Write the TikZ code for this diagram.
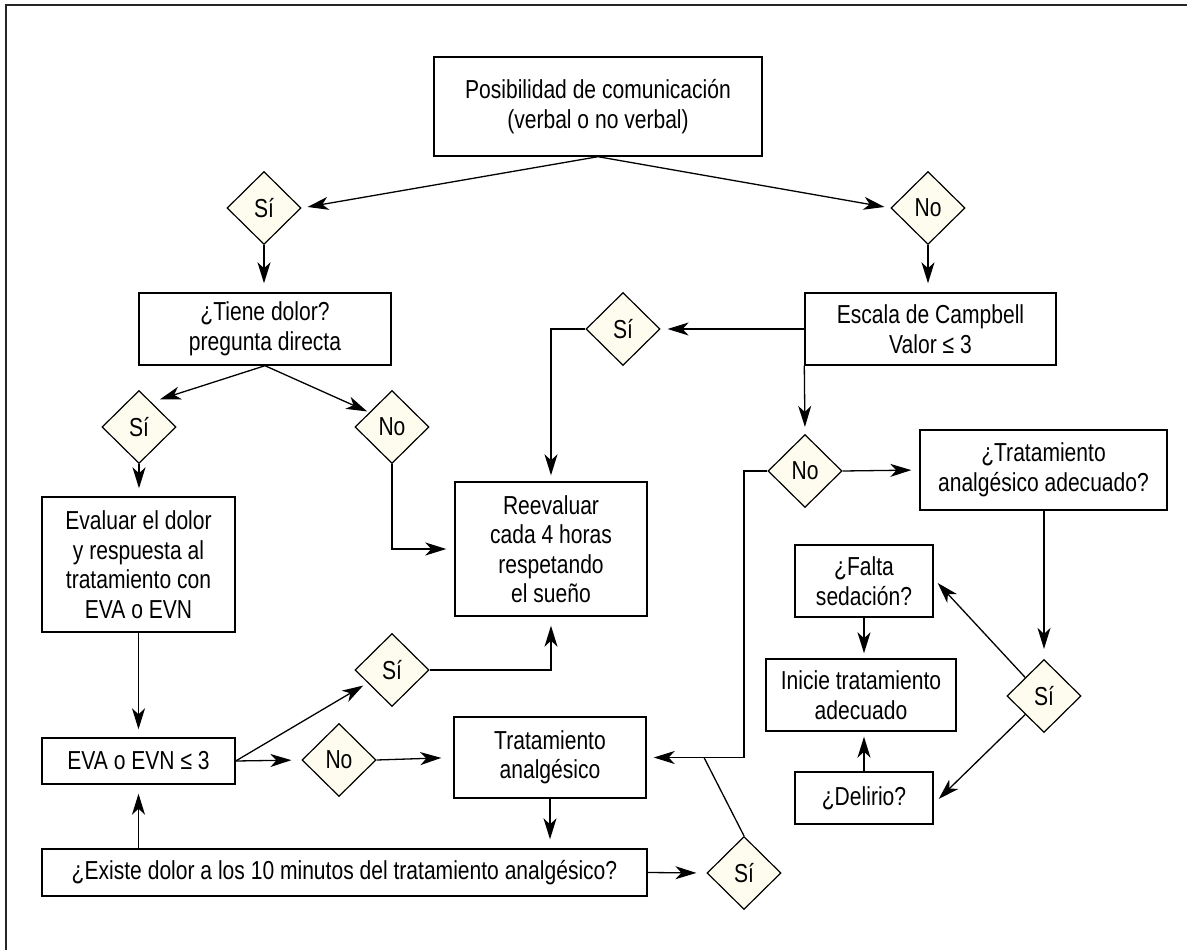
\documentclass[tikz,border=0pt]{standalone}
\usepackage{fontspec}
\setmainfont{Liberation Sans}[FakeStretch=0.81]
\usetikzlibrary{shapes.geometric,arrows.meta,calc}
\definecolor{cream}{RGB}{253,252,238}
\begin{document}
\begin{tikzpicture}[x=1pt,y=-1pt,
  box/.style={draw, line width=1.4pt, rectangle, inner sep=0pt, align=center, font=\fontsize{26}{29.5}\selectfont},
  dia/.style={draw, line width=1.2pt, diamond, fill=cream, inner sep=0pt, minimum width=74pt, minimum height=73pt, font=\fontsize{26}{29.5}\selectfont},
  arr/.style={line width=1.3pt, -{Stealth[length=21pt,width=13pt,inset=6pt]}},
  ln/.style={line width=1.3pt}]
\useasboundingbox (0,0) rectangle (1187,950);
\draw[line width=2pt, black!85] (6,950) -- (6,5) -- (1187,5);

\node[box, minimum width=328pt, minimum height=99pt] (pos) at (598,106.5) {Posibilidad de comunicación\\(verbal o no verbal)};
\node[dia] (si1) at (264,208) {Sí};
\node[dia] (no1) at (928,208) {No};
\node[box, minimum width=252pt, minimum height=72pt] (tiene) at (265,329) {¿Tiene dolor?\\pregunta directa};
\node[box, minimum width=251pt, minimum height=72pt] (camp) at (930.5,329) {Escala de Campbell\\Valor ≤ 3};
\node[dia] (siR) at (623,329) {Sí};
\node[dia] (si2) at (139,427) {Sí};
\node[dia] (no2) at (392,427) {No};
\node[box, minimum width=193pt, minimum height=135pt] (eval) at (138.5,564.5) {Evaluar el dolor\\y respuesta al\\tratamiento con\\EVA o EVN};
\node[box, minimum width=192pt, minimum height=134pt] (reev) at (551,549) {Reevaluar\\cada 4 horas\\respetando\\el sueño};
\node[dia] (no3) at (805,471) {No};
\node[box, minimum width=247pt, minimum height=80pt] (trad) at (1043.5,470) {¿Tratamiento\\analgésico adecuado?};
\node[box, minimum width=138pt, minimum height=72pt] (falta) at (864,581) {¿Falta\\sedación?};
\node[box, minimum width=190pt, minimum height=72pt] (inicie) at (861,695) {Inicie tratamiento\\adecuado};
\node[dia] (si4) at (1044,696) {Sí};
\node[box, minimum width=138pt, minimum height=52pt] (del) at (864,798) {¿Delirio?};
\node[box, minimum width=193pt, minimum height=46pt] (eva) at (138.5,761) {EVA o EVN ≤ 3};
\node[dia] (si6) at (392,670) {Sí};
\node[dia] (no5) at (339,760) {No};
\node[box, minimum width=192pt, minimum height=81pt] (trat) at (550,757.5) {Tratamiento\\analgésico};
\node[box, minimum width=605pt, minimum height=47pt] (exist) at (344.5,872.5) {¿Existe dolor a los 10 minutos del tratamiento analgésico?};
\node[dia] (si5) at (744,873) {Sí};

\coordinate (bend) at (744,471);
\coordinate (join) at (704,757.5);

\draw[arr, shorten >=6pt] (pos.south) -- (si1.east);
\draw[arr, shorten >=6pt] (pos.south) -- (no1.west);
\draw[arr, shorten >=9pt] (si1.south) -- (tiene.north -| si1.south);
\draw[arr, shorten >=9pt] (no1.south) -- (camp.north -| no1.south);
\draw[arr] (tiene.south) -- ($(si2.north east)+(2,-9)$);
\draw[arr] (tiene.south) -- ($(no2.north west)+(-6,3)$);
\draw[arr, shorten >=8pt] (si2.south) -- (eval.north -| si2.south);
\draw[arr, shorten >=8pt] (no2.south) |- (reev.west);
\draw[arr, shorten >=6pt] (siR.west) -| (reev.north);
\draw[arr, shorten >=7pt] (camp.west) -- (siR.east);
\draw[arr, shorten >=7pt] (camp.south west) -- (no3.north);
\draw[arr, shorten >=8pt] (no3.east) -- (trad.west);
\draw[arr, shorten >=7pt] (no3.west) -- (bend) |- (trat.east);
\draw[ln] (si5.north) -- (join);
\draw[arr, shorten >=10pt] (exist.east) -- (si5.west);
\draw[arr, shorten >=10pt] (trad.south -| si4.north) -- (si4.north);
\draw[arr] (si4.north west) -- ($(falta.east)+(4,2)$);
\draw[arr] (si4.south west) -- ($(del.east)+(5,1)$);
\draw[arr, shorten >=5pt] (falta.south) -- (inicie.north -| falta.south);
\draw[arr, shorten >=5pt] (del.north) -- (inicie.south -| del.north);
\draw[arr, shorten >=8pt] (eval.south) -- (eva.north);
\draw[arr, shorten >=9pt] (exist.north -| eva.south) -- (eva.south);
\draw[arr, shorten >=10pt] (eva.east) -- (no5.west);
\draw[arr] (eva.east) -- ($(si6.south west)+(-10,-3)$);
\draw[arr, shorten >=12pt] (no5.east) -- (trat.west);
\draw[arr, shorten >=9pt] (si6.east) -| (reev.south);
\draw[arr, shorten >=9pt] (trat.south) -- (exist.north -| trat.south);
\end{tikzpicture}
\end{document}
